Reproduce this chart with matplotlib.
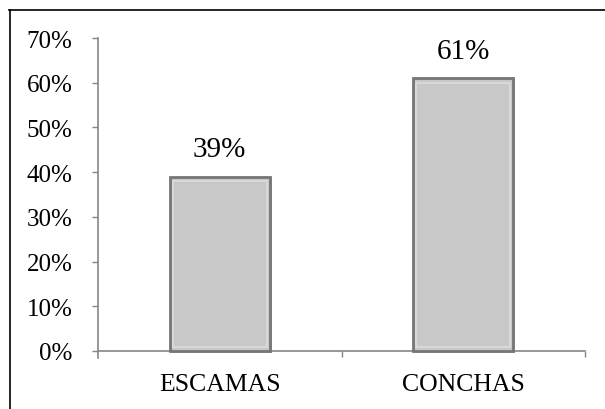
import matplotlib
matplotlib.use("Agg")
import matplotlib.pyplot as plt
import matplotlib.patheffects as pe
from matplotlib.lines import Line2D

categories = ["ESCAMAS", "CONCHAS"]
values = [39, 61]
value_labels = ["39%", "61%"]
yticks = [0, 10, 20, 30, 40, 50, 60, 70]
ytick_labels = ["0%", "10%", "20%", "30%", "40%", "50%", "60%", "70%"]

plt.rcParams['font.family'] = ['Liberation Serif', 'DejaVu Serif']

fig = plt.figure(figsize=(6.05, 4.10), dpi=100)
ymin = -1.5
px_per = (352 - 39) / 70.0
bottom_px = 352 + (-ymin) * px_per
ax = fig.add_axes([98/605, 1-bottom_px/410, (585-98)/605, (bottom_px-39)/410])

ax.spines['bottom'].set_position(('data', 0))
for side in ['top', 'right']:
    ax.spines[side].set_visible(False)
for side in ['left', 'bottom']:
    ax.spines[side].set_color('#868686')
    ax.spines[side].set_linewidth(1.2)

x = list(range(len(categories)))
bw = 0.41
bars = ax.bar(x, values, width=bw, color='#c8c8c8', edgecolor='#767676',
              linewidth=2.0, zorder=3)
for b in bars:
    b.set_path_effects([pe.SimplePatchShadow(offset=(1.5, -1.5), alpha=0.35, shadow_rgbFace='#555555'),
                        pe.Normal()])
# bevel highlight (inner frame)
inset_x = 0.012
inset_y = 1.0
ax.bar(x, [v - 2 * inset_y for v in values], bottom=inset_y, width=bw - 2 * inset_x,
       facecolor='none', edgecolor='#dcdcdc', linewidth=1.2, zorder=4)

ax.bar_label(bars, labels=value_labels, padding=10.5, fontsize=21, color='black')

ax.set_xlim(-0.5, len(categories) - 0.5)
ax.set_ylim(ymin, 70)
ax.set_yticks(yticks)
ax.set_yticklabels(ytick_labels)
ax.set_xticks(x)
ax.set_xticklabels(categories)
ax.set_xticks([i + 0.5 for i in x], minor=True)

ax.tick_params(axis='x', which='major', length=0, pad=16, labelsize=18.5)
ax.tick_params(axis='x', which='minor', length=4.3, width=1, color='#868686', direction='out')
ax.tick_params(axis='y', length=4.3, width=1, color='#868686', direction='out', pad=14, labelsize=18)

# figure border (chart area frame)
fig.add_artist(Line2D([9/605, 1], [1-10.5/410, 1-10.5/410], transform=fig.transFigure,
                      color='black', linewidth=1.2))
fig.add_artist(Line2D([9.5/605, 9.5/605], [0, 1-10.5/410], transform=fig.transFigure,
                      color='black', linewidth=1.2))

fig.savefig("out.png", dpi=100)
